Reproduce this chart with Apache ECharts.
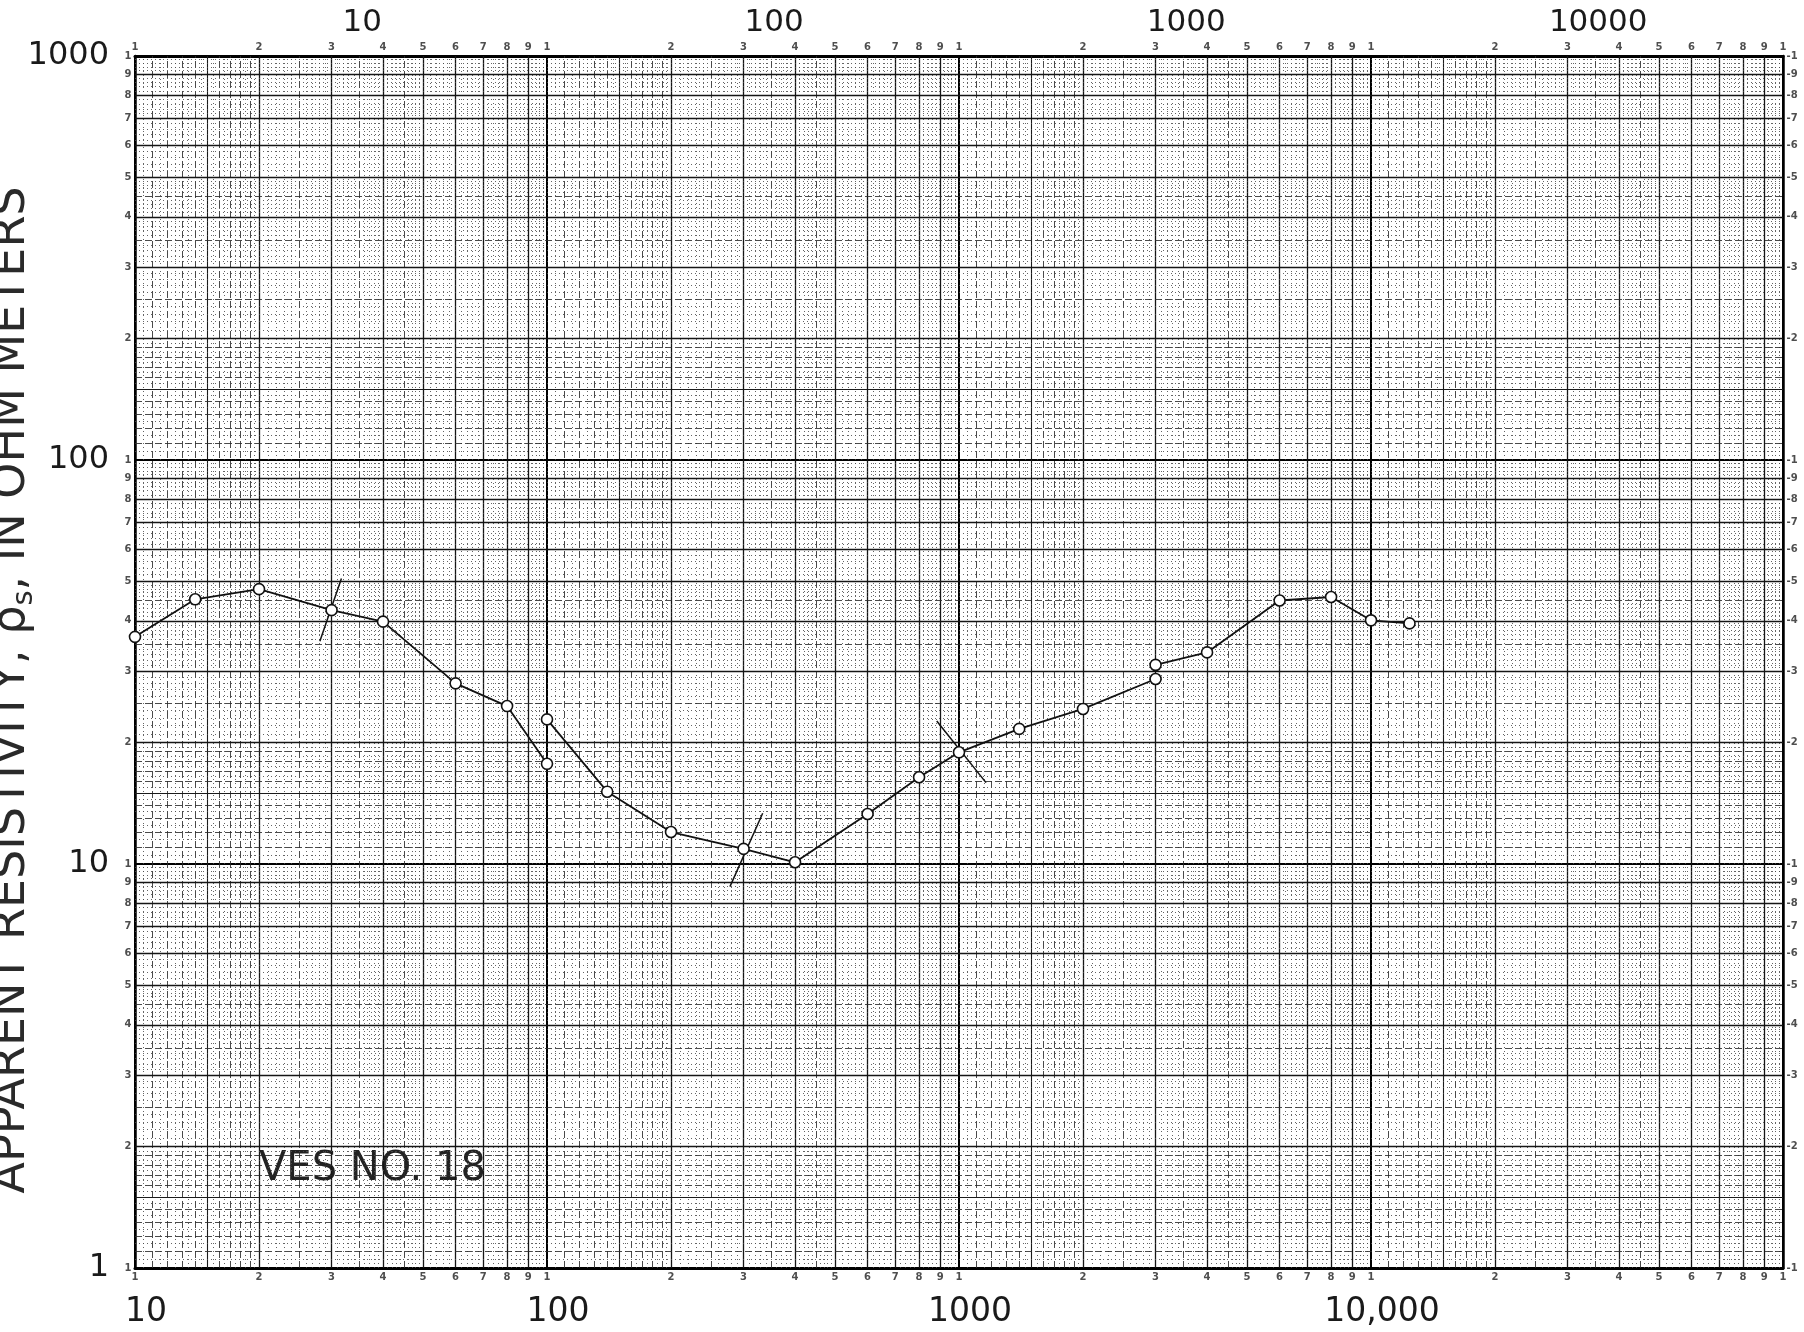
<!DOCTYPE html>
<html>
<head>
<meta charset="utf-8">
<script src="https://cdn.jsdelivr.net/npm/echarts@6/dist/echarts.min.js"></script>
<style>
html,body{margin:0;padding:0;background:#ffffff;}
#chart{width:1804px;height:1332px;}
</style>
</head>
<body>
<div id="chart"></div>
<script>
// ---- data (electrode spacing vs apparent resistivity) ----
const spacingA = [10, 14, 20, 30, 40, 60, 80, 100];
const rhoA     = [36.5, 45.2, 47.9, 42.5, 39.8, 28.0, 24.6, 17.7];
const spacingB = [100, 140, 200, 300, 400, 600, 800, 1000, 1400, 2000, 3000];
const rhoB     = [22.8, 15.1, 12.0, 10.9, 10.1, 13.3, 16.4, 18.9, 21.6, 24.2, 28.7];
const spacingC = [3000, 4000, 6000, 8000, 10000, 12400];
const rhoC     = [31.1, 33.4, 44.9, 45.8, 40.1, 39.4];

// short slash marks crossing the curve (segment overlap marks)
const slashStart = [[28.1, 35.6], [278, 8.79], [883, 22.6]];
const slashEnd   = [[31.7, 50.9], [333.8, 13.35], [1163, 15.9]];

// ---- axes / tick labels ----
const xTickValues = [10, 100, 1000, 10000];
const xTickLabels = ['10', '100', '1000', '10,000'];
const topTickValues = [10, 100, 1000, 10000];
const topTickLabels = ['10', '100', '1000', '10000'];
const topScaleRatio = 3.56;
const yTickValues = [1, 10, 100, 1000];
const yTickLabels = ['1', '10', '100', '1000'];
const xDecades = [10, 100, 1000, 10000];
const yDecades = [1, 10, 100];
const paperDigits = ['1', '2', '3', '4', '5', '6', '7', '8', '9'];
const paperDigitMults = [1, 2, 3, 4, 5, 6, 7, 8, 9];

// ---- graph-paper rulings (multipliers within a decade) ----
const paperMajor  = [2, 3, 4, 5, 6, 7, 8, 9];
const paperMid    = [1.5];
const paperDashed = [1.1, 1.2, 1.3, 1.4, 1.6, 1.7, 1.8, 1.9, 2.5, 3.5, 4.5];
const paperDotted = [1.05, 1.15, 1.25, 1.35, 1.45, 1.55, 1.65, 1.75, 1.85, 1.95,
  2.1, 2.2, 2.3, 2.4, 2.6, 2.7, 2.8, 2.9, 3.1, 3.2, 3.3, 3.4, 3.6, 3.7, 3.8, 3.9,
  4.1, 4.2, 4.3, 4.4, 4.6, 4.7, 4.8, 4.9, 5.2, 5.4, 5.6, 5.8, 6.2, 6.4, 6.6, 6.8,
  7.2, 7.4, 7.6, 7.8, 8.2, 8.4, 8.6, 8.8, 9.2, 9.4, 9.6, 9.8];

const styleDotted = {color: '#4a4a4a', width: 1, type: [1, 3], opacity: 0.85};
const styleDashed = {color: '#2a2a2a', width: 1, type: [7, 3], opacity: 0.85};
const styleMid    = {color: '#1a1a1a', width: 1.1, type: 'solid'};
const styleMajor  = {color: '#151515', width: 1.3, type: 'solid'};

function rulings(axisKey, decades) {
  const out = [];
  const groups = [[paperDotted, styleDotted], [paperDashed, styleDashed], [paperMid, styleMid], [paperMajor, styleMajor]];
  groups.forEach(([mults, st]) => {
    decades.forEach(base => {
      mults.forEach(m => {
        const item = {lineStyle: st};
        item[axisKey] = +(base * m).toPrecision(6);
        out.push(item);
      });
    });
  });
  return out;
}

function lookup(values, labels) {
  return function (v) {
    for (let i = 0; i < values.length; i++) {
      if (Math.abs(Math.log10(values[i]) - Math.log10(v)) < 1e-6) return labels[i];
    }
    return '';
  };
}

// printed cycle digits of the paper
function edgeDigits(decades, lastValue, fixed, horizontal) {
  const out = [];
  decades.forEach(base => {
    paperDigitMults.forEach((m, i) => {
      const v = base * m;
      out.push({name: paperDigits[i], value: horizontal ? [v, fixed] : [fixed, v]});
    });
  });
  out.push({name: paperDigits[0], value: horizontal ? [lastValue, fixed] : [fixed, lastValue]});
  return out;
}

const digitLabel = {show: true, formatter: '{b}', color: '#222', fontSize: 10, fontWeight: 'bold', fontFamily: 'DejaVu Sans'};
function digitSeries(data, position, distance, fmt) {
  return {
    type: 'scatter', data: data, symbol: 'circle', symbolSize: 1,
    itemStyle: {color: 'rgba(0,0,0,0)'}, clip: false, silent: true, z: 2,
    label: Object.assign({}, digitLabel, {position: position, distance: distance}, fmt ? {formatter: fmt} : {})
  };
}

const lineFont = 'DejaVu Sans';
const chart = echarts.init(document.getElementById('chart'), null, {renderer: 'canvas'});

const dataSeriesStyle = {
  type: 'line', symbol: 'circle', symbolSize: 11, showAllSymbol: true,
  itemStyle: {color: '#ffffff', borderColor: '#111', borderWidth: 1.6},
  lineStyle: {color: '#111', width: 1.8}, z: 6, silent: true
};

const option = {
  animation: false,
  backgroundColor: '#ffffff',
  grid: {left: 135, right: 21, top: 56, bottom: 64, containLabel: false},
  xAxis: [
    {
      type: 'log', logBase: 10, min: 10, max: 100000, position: 'bottom',
      axisLine: {show: true, lineStyle: {color: '#000', width: 3}},
      axisTick: {show: false},
      splitLine: {show: true, lineStyle: {color: '#000', width: 2}},
      axisLabel: {
        formatter: lookup(xTickValues, xTickLabels), margin: 28,
        fontSize: 33, color: '#1a1a1a', fontFamily: lineFont, padding: [0, 0, 0, 22],
        showMinLabel: true, showMaxLabel: true
      }
    },
    {
      type: 'log', logBase: 10, min: 10 / topScaleRatio, max: 100000 / topScaleRatio, position: 'top',
      axisLine: {show: true, lineStyle: {color: '#000', width: 3}},
      axisTick: {show: false},
      splitLine: {show: false},
      axisLabel: {
        formatter: lookup(topTickValues, topTickLabels), margin: 18,
        fontSize: 31, color: '#1a1a1a', fontFamily: lineFont
      }
    }
  ],
  yAxis: [
    {
      type: 'log', logBase: 10, min: 1, max: 1000, position: 'left',
      axisLine: {show: true, lineStyle: {color: '#000', width: 2.5}},
      axisTick: {show: false},
      splitLine: {show: true, lineStyle: {color: '#000', width: 2}},
      axisLabel: {
        formatter: lookup(yTickValues, yTickLabels), margin: 26,
        fontSize: 32, color: '#1a1a1a', fontFamily: lineFont
      }
    },
    {
      type: 'log', logBase: 10, min: 1, max: 1000, position: 'right',
      axisLine: {show: true, lineStyle: {color: '#000', width: 2.5}},
      axisTick: {show: false}, splitLine: {show: false}, axisLabel: {show: false}
    }
  ],
  graphic: [
    {
      type: 'text', x: 12, y: 690, rotation: Math.PI / 2, silent: true,
      style: {
        text: 'APPARENT RESISTIVITY, ρ{sub|s}, IN OHM METERS',
        fontSize: 46, fontFamily: lineFont, fill: '#2a2a2a',
        align: 'center', verticalAlign: 'middle', textAlign: 'center', textVerticalAlign: 'middle',
        rich: {sub: {fontSize: 29, fontFamily: lineFont, fill: '#2a2a2a', verticalAlign: 'bottom', lineHeight: 54}}
      }
    },
    {
      type: 'text', x: 259, y: 1170, silent: true,
      style: {
        text: 'VES NO. 18', fontSize: 40, fontFamily: lineFont, fill: '#222',
        align: 'left', verticalAlign: 'middle', textAlign: 'left', textVerticalAlign: 'middle'
      }
    }
  ],
  series: [
    {
      type: 'line', data: [], silent: true, z: 1,
      markLine: {
        silent: true, symbol: ['none', 'none'], animation: false,
        label: {show: false}, emphasis: {disabled: true},
        data: rulings('xAxis', xDecades).concat(rulings('yAxis', yDecades))
      }
    },
    digitSeries(edgeDigits(xDecades, 100000, 1, true), 'bottom', 4),
    digitSeries(edgeDigits(xDecades, 100000, 1000, true), 'top', 3),
    digitSeries(edgeDigits(yDecades, 1000, 10, false), 'left', 3),
    digitSeries(edgeDigits(yDecades, 1000, 100000, false), 'right', 3, p => '-' + p.name)
  ].concat(slashStart.map((s, i) => ({
    type: 'line', data: [s, slashEnd[i]], symbol: 'none', silent: true, z: 5,
    lineStyle: {color: '#111', width: 1.5}
  }))).concat([
    Object.assign({data: spacingA.map((x, i) => [x, rhoA[i]])}, dataSeriesStyle),
    Object.assign({data: spacingB.map((x, i) => [x, rhoB[i]])}, dataSeriesStyle),
    Object.assign({data: spacingC.map((x, i) => [x, rhoC[i]])}, dataSeriesStyle)
  ])
};
chart.setOption(option);
</script>
</body>
</html>
